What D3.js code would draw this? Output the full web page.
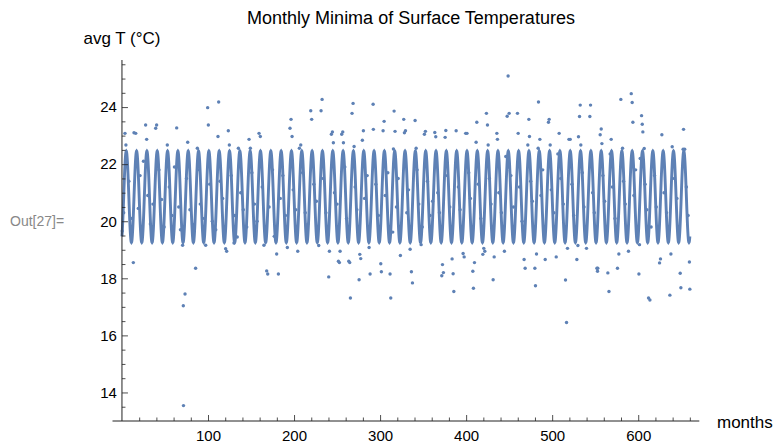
<!DOCTYPE html>
<html>
<head>
<meta charset="utf-8">
<script src="https://cdn.jsdelivr.net/npm/d3@7"></script>
<style>
  body { margin: 0; background: #fff; }
  svg { display: block; font-family: "Liberation Sans", Arial, sans-serif; }
</style>
</head>
<body>
<script>
// sine fit of the monthly minima
var fitMean = 20.855, fitAmp = 1.6, fitPeriod = 12, fitPeakMonth = 5;
var firstMonth = 0, lastMonth = 660;

var xTicks = [100, 200, 300, 400, 500, 600];
var yTicks = [14, 16, 18, 20, 22, 24];

// points above the fitted band: [month, T]
var highPoints = [[3.5,23.08],[4.6,22.67],[14,23.1],[16,23.08],[27.5,23.37],[28.7,22.87],[39.2,23.26],[40.3,23.37],[52.7,22.67],[63.6,23.27],[76.4,22.77],[87.6,22.56],[99.6,23.98],[100.4,23.37],[111.6,22.97],[112.4,24.18],[123.6,23.17],[124.8,22.67],[135.3,22.56],[147.7,22.87],[149.2,22.56],[159.3,23.08],[160.8,22.97],
  [195.3,23.26],[196.5,23.57],[197.7,22.97],[206.2,22.56],[207.8,22.67],[219.4,23.87],[220.5,23.57],[231.4,23.87],[232.6,24.27],[243.4,23.05],[244.6,23.13],[245.7,22.75],[255.4,23.05],[256.6,23.13],[257.4,22.75],[267.4,23.78],[268.6,24.13],[269.8,22.62],[279.4,22.84],[280.6,23.17],[291.9,24.1],[292.2,23.22],[303.5,23.17],[304.7,23.5],[315.5,22.53],[316.3,23.86],[317.4,23.15],[327.5,23.57],[328.3,23.1],[329.5,23.17],
  [340.7,23.53],[341.9,22.56],[351.5,23.05],[352.7,23.15],[363.6,23.11],[364.7,22.96],[375.6,22.94],[376.4,23.18],[388.4,23.17],[399.5,23.08],[401,23.08],[411.6,22.77],[412.4,23.47],[423.6,23.78],[424.8,23.37],[425.6,22.67],[435.7,23.08],[436.4,22.87],[446.1,22.27],[447.7,23.68],[448.8,25.09],[450,23.78],[459.7,23.78],[460.5,23.08],[471.7,22.67],[472.9,23.57],[473.6,22.97],[483.7,22.56],[484.1,24.18],[485.7,22.87],[495.7,23.47],[496.5,23.57],[497.7,22.67],
  [506.6,22.36],[508.1,23.08],[519.5,22.87],[521,22.87],[530.6,22.96],[531.8,23.67],[532.6,24.07],[533.3,22.67],[543.8,23.67],[544.6,24.07],[555.8,23.03],[557,23.23],[557.8,22.72],[567.4,22.36],[568.6,22.87],[579.8,24.27],[581.8,22.56],[591.9,24.47],[593,24.16],[593.8,23.47],[602.3,22.2],[603.9,23.7],[604.7,23.4],[605.4,23.13],[607,22.55],[627.5,23.03],[639.5,22.61],[652.7,23.22],[652.2,22.52],[654,22.52]];

// points below the fitted band
var lowPoints = [[0.4,19.66],[13.2,18.55],[70.5,19.16],[71.3,17.04],[71.5,13.54],[73.3,17.45],[85.6,18.35],[97.3,19.16],[120.5,19.04],[121.7,18.95],[130.2,19.24],[134,19.45],[165,19.16],[168.2,18.26],[169.4,18.15],[179.8,18.85],[181.8,18.15],[192.2,19.08],[204.3,18.95],[228.7,19.15],[240.3,18.05],[241.1,18.95],[251.6,18.6],[252.7,18.55],[253.5,18.95],[263.6,18.6],[264.7,18.55],[265.5,17.31],[275.6,17.95],[276.4,18.84],[277.5,18.69],[287.2,19.08],[288.4,18.15],[300.8,18.51],[301.5,18.23],[311.6,18.15],[312.4,17.31],[323.6,18.8],[334.9,19.02],[336.4,18.23],[337.6,17.84],[347.7,19.18],[371.7,18.09],[372.5,18.48],[373.6,18.2],[383.7,18.68],[384.9,18.16],[385.7,17.54],[396.5,18.87],[397.7,18.75],[407.8,18.25],[408.5,17.65],[409.7,18.55],[419.4,18.84],[420.5,19.05],[421.7,18.95],[431.4,17.95],[432.6,18.75],[444.5,18.95],[467.4,18.66],[468.6,18.35],[479.9,18.35],[480.6,17.74],[481.8,18.85],[491.9,18.66],[504.7,18.75],[515.5,17.94],[516.7,16.45],[517.8,19.05],[528.7,18.66],[529.9,19.15],[539.9,19.05],[552,18.35],[553,18.35],[552.7,18.25],[564.7,18.19],[566,17.54],[575.9,18.35],[577.5,18.85],[588.7,18.95],[600.8,18.15],[601.5,19.18],[612,17.31],[613.6,17.24],[624.8,18.54],[625.9,18.68],[636.8,17.41],[638,18.85],[648.8,18.18],[649.6,17.67],[659.5,18.57],[660,17.62]];

// points inside the band (mostly hidden by the curve)
var midPoints = [[2,20.3],[8,21.4],[11,20.1],[19,20.45],[21,21.6],[25,22.1],[30,20.9],[33,19.9],[36,20.6],[43,21.8],[46,20.76],[49,19.8],[55,21.2],[58,20.2],[61,21.9],[66,20.5],[68,19.7],[75,21.5],[79,20.4],[82,19.9],[88,21.8],[91,20.6],[94,20.1],[102,21.3],[105,20.0],[109,19.7],[114,21.4],[117,20.8],[127,21.6],[131,20.2],[138,21.0],[141,20.4],[145,19.8],[151,21.7],[154,20.6],[157,20.0],[163,21.2],[171,20.5],[175,21.8],[177,19.47],[184,20.8],[187,21.6],[190,20.2],[199,21.1],[202,20.4],[210,21.7],[213,20.3],[216,19.9],[223,21.3],[226,20.7],[234,21.5],[237,20.3],[247,21.0],[250,20.6],[259,21.9],[261,20.1],[271,21.2],[273,20.4],[282,20.8],[285,21.6],[295,21.3],[298,20.2],[306,20.9],[309,21.7],[314.7,19.62],[319,20.5],[321,21.5],[331,20.3],[333,21.1],[343,21.8],[345,20.6],[349,19.8],[355,21.4],[358,20.2],[361,20.7],[367,21.0],[369,20.3],[378,21.6],[381,20.5],[391,21.2],[393,20.4],[403,21.7],[405,20.8],[414,21.3],[417,20.1],[427,21.5],[429,20.6],[438,21.0],[441,20.3],[452,21.6],[455,20.5],[462,21.2],[465,20.0],[475,21.4],[477,20.7],[487,20.9],[489,21.8],[499,21.1],[502,20.3],[510,21.5],[513,20.6],[523,21.3],[525,20.2],[535,21.7],[537,20.5],[547,21.0],[549,20.3],[559,21.6],[561,20.7],[570,21.2],[573,20.1],[583,21.4],[585,20.6],[595,20.9],[597,21.8],[608,21.3],[610,20.4],[615,19.8],[619,21.6],[621,20.5],[630,21.0],[633,20.3],[642,21.5],[645,20.8],[656,21.2],[658,20.2]];

var width = 775, height = 444;
var blue = '#5e81b5';

var svg = d3.select('body').append('svg')
    .attr('width', width)
    .attr('height', height);

var xScale = d3.scaleLinear().domain([-11, 671]).range([112.5, 699.3]);
var yScale = d3.scaleLinear().domain([13, 25.65]).range([421, 60]);

// title + labels
svg.append('text')
    .attr('x', 411).attr('y', 24)
    .attr('text-anchor', 'middle')
    .style('font-size', '18px')
    .text('Monthly Minima of Surface Temperatures');

svg.append('text')
    .attr('x', xScale(0)).attr('y', 44)
    .attr('text-anchor', 'middle')
    .style('font-size', '17px')
    .text('avg T (°C)');

svg.append('text')
    .attr('x', 717).attr('y', 428)
    .style('font-size', '17px')
    .text('months');

svg.append('text')
    .attr('x', 10).attr('y', 226)
    .attr('fill', '#888')
    .style('font-size', '14px')
    .text('Out[27]=');

// points first, fit curve on top
var allPoints = highPoints.concat(lowPoints, midPoints);
svg.append('g').selectAll('circle')
    .data(allPoints)
    .enter().append('circle')
    .attr('cx', function(d) { return xScale(d[0]); })
    .attr('cy', function(d) { return yScale(d[1]); })
    .attr('r', 1.7)
    .attr('fill', blue);

var curveMonths = d3.range(firstMonth, lastMonth + 0.001, 0.2);
var fit = function(t) { return fitMean + fitAmp * Math.cos(2 * Math.PI * (t - fitPeakMonth) / fitPeriod); };
var line = d3.line()
    .x(function(t) { return xScale(t); })
    .y(function(t) { return yScale(fit(t)); });

svg.append('path')
    .attr('d', line(curveMonths))
    .attr('fill', 'none')
    .attr('stroke', blue)
    .attr('stroke-width', 2.9);

// axes
var xAxis = d3.axisBottom(xScale).tickValues(xTicks).tickSize(6).tickPadding(4).tickFormat(d3.format('d'));
var xMinor = d3.axisBottom(xScale).tickValues(d3.range(20, 661, 20).filter(function(v) { return v % 100; })).tickSize(3.5).tickFormat('');
var yAxis = d3.axisLeft(yScale).tickValues(yTicks).tickSize(6).tickPadding(4);
var yMinor = d3.axisLeft(yScale).tickValues(d3.range(13.5, 25.6, 0.5).filter(function(v) { return v % 2; })).tickSize(3.5).tickFormat('');

function styleAxis(g) {
    g.select('.domain').remove();
    g.selectAll('line').attr('stroke', '#222').attr('stroke-width', 0.8);
    g.selectAll('text').style('font-size', '15px').attr('fill', '#000');
}

var gx = svg.append('g').attr('transform', 'translate(0,' + yScale(13) + ')');
gx.call(xAxis).call(styleAxis);
gx.selectAll('line').attr('y2', -6);
gx.selectAll('text').attr('y', 9);
var gxm = svg.append('g').attr('transform', 'translate(0,' + yScale(13) + ')');
gxm.call(xMinor).call(styleAxis);
gxm.selectAll('line').attr('y2', -3.5);

var gy = svg.append('g').attr('transform', 'translate(' + xScale(0) + ',0)');
gy.call(yAxis).call(styleAxis);
gy.selectAll('line').attr('x2', 6);
gy.selectAll('text').attr('x', -5);
var gym = svg.append('g').attr('transform', 'translate(' + xScale(0) + ',0)');
gym.call(yMinor).call(styleAxis);
gym.selectAll('line').attr('x2', 3.5);

svg.append('line')
    .attr('x1', xScale(-11)).attr('x2', xScale(671))
    .attr('y1', yScale(13)).attr('y2', yScale(13))
    .attr('stroke', '#222').attr('stroke-width', 1);
svg.append('line')
    .attr('x1', xScale(0)).attr('x2', xScale(0))
    .attr('y1', yScale(13)).attr('y2', yScale(25.65))
    .attr('stroke', '#222').attr('stroke-width', 1);
</script>
</body>
</html>
